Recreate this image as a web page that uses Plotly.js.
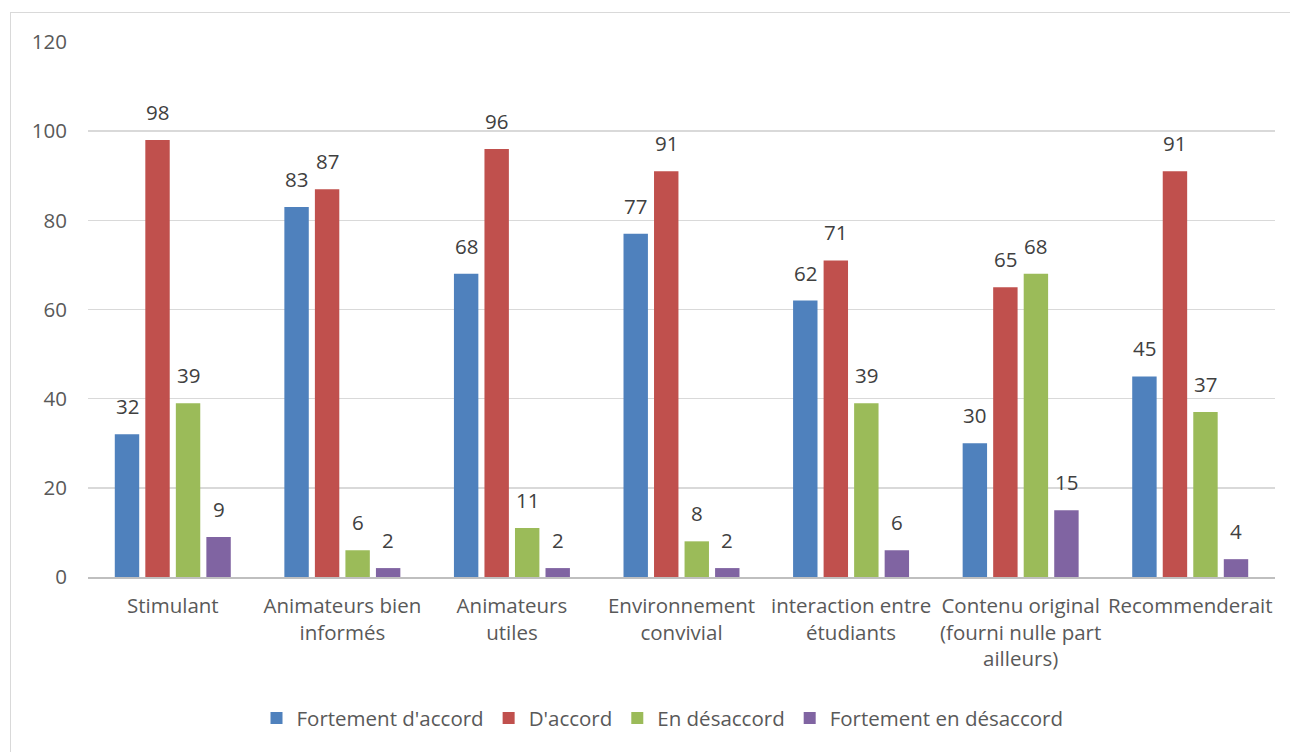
<!DOCTYPE html>
<html>
<head>
<meta charset="utf-8">
<script src="https://cdn.plot.ly/plotly-3.0.1.min.js"></script>
<style>
  html, body { margin: 0; padding: 0; background: #fff; }
  #chart { width: 1290px; height: 752px; }
  #frame { position: absolute; left: 10px; top: 12px; width: 1300px; height: 760px;
           border-left: 1.5px solid #d9d9d9; border-top: 1.5px solid #d9d9d9; pointer-events: none; }
</style>
</head>
<body>
<div id="chart"></div>
<div id="frame"></div>
<script>
const categories = [
  "Stimulant",
  "Animateurs bien<br>informés",
  "Animateurs<br>utiles",
  "Environnement<br>convivial",
  "interaction entre<br>étudiants",
  "Contenu original<br>(fourni nulle part<br>ailleurs)",
  "Recommenderait"
];
const seriesNames = ["Fortement d'accord", "D'accord", "En désaccord", "Fortement en désaccord"];
const fortementDAccord = [32, 83, 68, 77, 62, 30, 45];
const dAccord = [98, 87, 96, 91, 71, 65, 91];
const enDesaccord = [39, 6, 11, 8, 39, 68, 37];
const fortementEnDesaccord = [9, 2, 2, 2, 6, 15, 4];
const yTicks = [0, 20, 40, 60, 80, 100, 120];

const colors = ["#4F81BD", "#C0504D", "#9BBB59", "#8064A2"];
const allSeries = [fortementDAccord, dAccord, enDesaccord, fortementEnDesaccord];
const font = "'Open Sans', 'Liberation Sans', sans-serif";
const fs = 20.5;

const traces = allSeries.map((vals, i) => ({
  type: "bar",
  name: seriesNames[i],
  x: categories,
  y: vals,
  marker: { color: colors[i] },
  hoverinfo: "x+y+name"
}));

// data labels: placed via annotations at each bar's (category, value)
const plotWidth = 1290 - 88 - 15;
const bargap = 0.28;
const pitch = plotWidth / categories.length * (1 - bargap) / allSeries.length;
const annotations = [];
allSeries.forEach((vals, i) => {
  vals.forEach((v, j) => {
    annotations.push({
      x: categories[j], y: v, xref: "x", yref: "y",
      text: String(v), showarrow: false,
      xanchor: "center", yanchor: "bottom",
      xshift: (i - (allSeries.length - 1) / 2) * pitch,
      yshift: 12,
      font: { family: font, size: fs, color: "#404040" }
    });
  });
});

const layout = {
  width: 1290,
  height: 752,
  paper_bgcolor: "#ffffff",
  plot_bgcolor: "#ffffff",
  margin: { l: 88, r: 15, t: 42, b: 175 },
  barmode: "group",
  bargap: bargap,
  bargroupgap: 0.2,
  font: { family: font, color: "#595959", size: fs },
  showlegend: true,
  annotations: annotations,
  legend: {
    orientation: "h",
    x: 0.484, xanchor: "center",
    y: -0.264, yanchor: "middle",
    font: { family: font, size: fs, color: "#595959" },
    itemwidth: 30,
    tracegroupgap: 0,
    traceorder: "normal"
  },
  xaxis: {
    type: "category",
    showgrid: false,
    showline: true,
    linecolor: "#bfbfbf",
    linewidth: 1.5,
    ticks: "",
    tickfont: { family: font, size: fs, color: "#595959" },
    ticklabelstandoff: 10,
    tickangle: 0
  },
  yaxis: {
    range: [0, 120],
    tickvals: yTicks,
    ticktext: yTicks.map(String),
    showgrid: true,
    gridcolor: "#d9d9d9",
    gridwidth: 1.5,
    zeroline: false,
    showline: false,
    ticks: "",
    ticklabelstandoff: 20,
    tickfont: { family: font, size: fs, color: "#595959" }
  }
};

Plotly.newPlot("chart", traces, layout, { displayModeBar: false, staticPlot: true });
</script>
</body>
</html>
